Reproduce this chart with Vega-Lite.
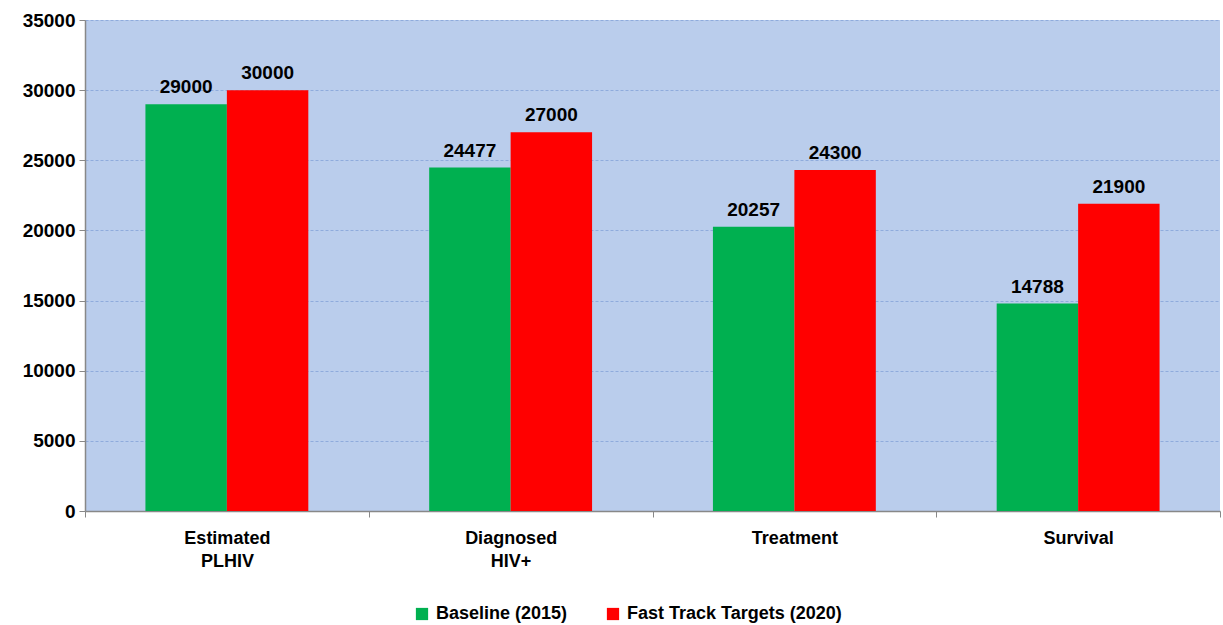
{
  "$schema": "https://vega.github.io/schema/vega-lite/v6.json",
  "width": 1135,
  "height": 491,
  "autosize": {"type": "none"},
  "padding": {"left": 85, "top": 20, "right": 3, "bottom": 114},
  "background": "white",
  "config": {
    "view": {"fill": "#bacdec", "stroke": null},
    "font": "Liberation Sans"
  },
  "data": {
    "values": [
      {"stage": "Estimated PLHIV", "series": "Baseline (2015)", "value": 29000},
      {"stage": "Estimated PLHIV", "series": "Fast Track Targets (2020)", "value": 30000},
      {"stage": "Diagnosed HIV+", "series": "Baseline (2015)", "value": 24477},
      {"stage": "Diagnosed HIV+", "series": "Fast Track Targets (2020)", "value": 27000},
      {"stage": "Treatment", "series": "Baseline (2015)", "value": 20257},
      {"stage": "Treatment", "series": "Fast Track Targets (2020)", "value": 24300},
      {"stage": "Survival", "series": "Baseline (2015)", "value": 14788},
      {"stage": "Survival", "series": "Fast Track Targets (2020)", "value": 21900}
    ]
  },
  "encoding": {
    "x": {
      "field": "stage",
      "type": "nominal",
      "sort": null,
      "scale": {"paddingInner": 0, "paddingOuter": 0},
      "axis": {
        "title": null,
        "labelAngle": 0,
        "labelFontSize": 18,
        "labelFontWeight": "bold",
        "labelColor": "black",
        "labelPadding": 12,
        "labelLineHeight": 23,
        "labelExpr": "datum.label == 'Estimated PLHIV' ? ['Estimated', 'PLHIV'] : datum.label == 'Diagnosed HIV+' ? ['Diagnosed', 'HIV+'] : datum.label",
        "ticks": true,
        "tickBand": "extent",
        "tickSize": 6,
        "tickColor": "#888888",
        "domainColor": "#888888",
        "domainWidth": 1.5,
        "grid": false
      }
    },
    "xOffset": {"field": "series", "type": "nominal", "scale": {"paddingInner": 0, "paddingOuter": 0.742}},
    "y": {
      "field": "value",
      "type": "quantitative",
      "scale": {"domain": [0, 35000], "nice": false},
      "axis": {
        "title": null,
        "values": [0, 5000, 10000, 15000, 20000, 25000, 30000, 35000],
        "labelFontSize": 19,
        "labelFontWeight": "bold",
        "labelColor": "black",
        "labelPadding": 4,
        "tickSize": 6,
        "tickColor": "#888888",
        "domainColor": "#888888",
        "domainWidth": 1.5,
        "grid": true,
        "gridColor": "#8fabdc",
        "gridDash": [3, 2],
        "gridWidth": 1,
        "format": "d"
      }
    },
    "color": {
      "field": "series",
      "type": "nominal",
      "scale": {"domain": ["Baseline (2015)", "Fast Track Targets (2020)"], "range": ["#00b050", "#ff0000"]},
      "legend": {
        "title": null,
        "orient": "none",
        "legendX": 328,
        "legendY": 585,
        "direction": "horizontal",
        "symbolType": "square",
        "symbolSize": 150,
        "symbolStrokeWidth": 0,
        "symbolOpacity": 1,
        "labelFontSize": 18,
        "labelFontWeight": "bold",
        "labelColor": "black",
        "labelLimit": 400,
        "labelOffset": 5,
        "columnPadding": 36
      }
    }
  },
  "layer": [
    {"mark": {"type": "bar"}},
    {
      "mark": {"type": "text", "dy": -17, "fontSize": 19, "fontWeight": "bold", "color": "black"},
      "encoding": {"text": {"field": "value", "type": "quantitative", "format": "d"}, "color": {"value": "black"}}
    }
  ]
}
